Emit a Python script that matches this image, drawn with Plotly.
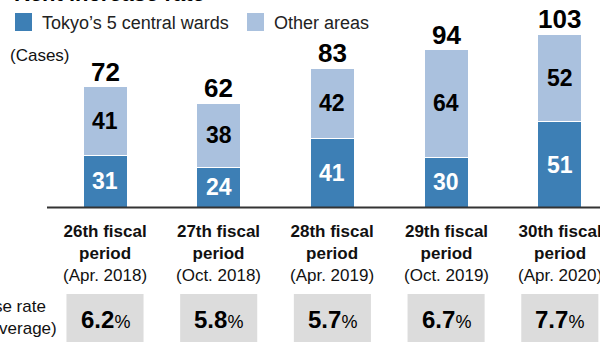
import plotly.graph_objects as go

# Fiscal periods, number of rent-increase cases by area, and average increase rate
periods = ["26th fiscal", "27th fiscal", "28th fiscal", "29th fiscal", "30th fiscal"]
months = ["(Apr. 2018)", "(Oct. 2018)", "(Apr. 2019)", "(Oct. 2019)", "(Apr. 2020)"]
central_wards = [31, 24, 41, 30, 51]
other_areas = [41, 38, 42, 64, 52]
increase_rate = [6.2, 5.8, 5.7, 6.7, 7.7]
series_names = ["Tokyo’s 5 central wards", "Other areas"]

W, H = 600, 347
FONT = "Liberation Sans, Arial, Helvetica, sans-serif"
DARK = "#3d7fb5"
LIGHT = "#aac1de"
BOX = "#dcdcdc"
INK = "#111111"

totals = [a + b for a, b in zip(central_wards, other_areas)]
xs = list(range(len(periods)))


def py(pixel_from_top):
    """Paper y coordinate for a pixel row measured from the top."""
    return 1 - pixel_from_top / H


def px(pixel_from_left):
    return pixel_from_left / W


fig = go.Figure()
for name, vals, color in [(series_names[0], central_wards, DARK),
                          (series_names[1], other_areas, LIGHT)]:
    fig.add_trace(go.Bar(
        x=xs, y=vals, name=name, width=0.387,
        marker=dict(color=color, line=dict(color="white", width=1)),
        showlegend=False, hoverinfo="skip",
    ))

ann = []
shapes = []

# totals above the stacks and values inside each segment
for i in xs:
    ann.append(dict(x=i, y=totals[i], xref="x", yref="y", text=f"<b>{totals[i]}</b>",
                    showarrow=False, yanchor="middle", yshift=15,
                    font=dict(size=26, color="#000", family=FONT)))
    ann.append(dict(x=i, y=central_wards[i] / 2, xref="x", yref="y",
                    text=f"<b>{central_wards[i]}</b>", showarrow=False,
                    font=dict(size=23, color="white", family=FONT)))
    ann.append(dict(x=i, y=central_wards[i] + other_areas[i] / 2, xref="x", yref="y",
                    text=f"<b>{other_areas[i]}</b>", showarrow=False,
                    font=dict(size=23, color="#000", family=FONT)))
    # period labels below the baseline
    ann.append(dict(x=i, y=py(253), xref="x", yref="paper",
                    text=f"<b>{periods[i]}<br>period</b><br>{months[i]}",
                    showarrow=False, yanchor="middle", align="center",
                    font=dict(size=17, color=INK, family=FONT)))
    # increase-rate boxes
    shapes.append(dict(type="rect", xref="x", yref="paper",
                       x0=i - 0.339, x1=i + 0.339, y0=py(342), y1=py(294),
                       fillcolor=BOX, line=dict(width=0), layer="below"))
    ann.append(dict(x=i, y=py(319), xref="x", yref="paper",
                    text=f"<b>{increase_rate[i]:.1f}</b><span style='font-size:18px'>%</span>",
                    showarrow=False, yanchor="middle",
                    font=dict(size=24, color="#000", family=FONT)))

# baseline
shapes.append(dict(type="line", xref="paper", yref="y", x0=px(47), x1=1, y0=0, y1=0,
                   line=dict(color="#333333", width=2)))

# legend
for sx, color, tx, name in [(15, DARK, 40, series_names[0]), (247, LIGHT, 272, series_names[1])]:
    shapes.append(dict(type="rect", xref="paper", yref="paper",
                       x0=px(sx), x1=px(sx + 17), y0=py(31), y1=py(13),
                       fillcolor=color, line=dict(width=0)))
    ann.append(dict(x=px(tx), y=py(22.5), xref="paper", yref="paper", text=name,
                    showarrow=False, xanchor="left", yanchor="middle",
                    font=dict(size=18, color="#222", family=FONT)))

# title (runs off the top edge) and other side texts
ann.append(dict(x=px(12), y=py(7.5), xref="paper", yref="paper",
                text="<b>Rent increase rate</b>", showarrow=False,
                xanchor="left", yanchor="bottom",
                font=dict(size=22, color="#000", family=FONT)))
ann.append(dict(x=px(8), y=py(55), xref="paper", yref="paper", text="(Cases)",
                showarrow=False, xanchor="left", yanchor="middle",
                font=dict(size=17, color=INK, family=FONT)))
ann.append(dict(x=px(48), y=py(306), xref="paper", yref="paper", text="Rent increase rate",
                showarrow=False, xanchor="right", yanchor="middle",
                font=dict(size=17, color=INK, family=FONT)))
ann.append(dict(x=px(59), y=py(328), xref="paper", yref="paper", text="(period average)",
                showarrow=False, xanchor="right", yanchor="middle",
                font=dict(size=17, color=INK, family=FONT)))

scale = 1.68  # pixels per case
base = 207.5
fig.update_layout(
    width=W, height=H, barmode="stack",
    margin=dict(l=0, r=0, t=0, b=0),
    paper_bgcolor="white", plot_bgcolor="white",
    xaxis=dict(range=[-105 / 113.7, -105 / 113.7 + W / 113.7], visible=False, fixedrange=True),
    yaxis=dict(range=[-(H - base) / scale, base / scale], visible=False, fixedrange=True),
    annotations=ann, shapes=shapes,
)

fig.write_html("out.html", config={"displayModeBar": False})
